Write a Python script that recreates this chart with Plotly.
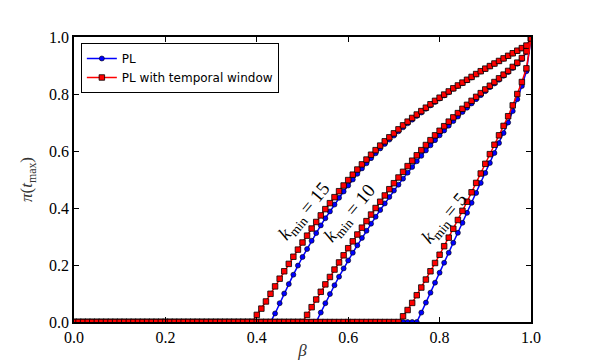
import plotly.graph_objects as go

# beta grid (step 0.01, 0.00 ... 1.00)
beta = [round(i * 0.01, 2) for i in range(101)]

# PL (blue circles)
pl_k15 = [0, 0, 0, 0, 0, 0, 0, 0, 0, 0, 0, 0, 0, 0, 0, 0, 0, 0, 0, 0,
          0, 0, 0, 0, 0, 0, 0, 0, 0, 0, 0, 0, 0, 0, 0, 0, 0, 0, 0, 0,
          0, 0, 0, 0,
          0.030, 0.066, 0.100, 0.133, 0.166, 0.198, 0.228,
          0.256, 0.285, 0.312, 0.339, 0.364, 0.388, 0.412, 0.436, 0.458, 0.479,
          0.500, 0.520, 0.539, 0.557, 0.575, 0.592, 0.609, 0.625, 0.640, 0.654,
          0.669, 0.683, 0.697, 0.710, 0.723, 0.735, 0.748, 0.760, 0.772, 0.784,
          0.795, 0.806, 0.818, 0.828, 0.838, 0.848, 0.858, 0.869, 0.879, 0.888,
          0.897, 0.906, 0.915, 0.924, 0.933, 0.942, 0.951, 0.960, 0.969, 0.995]
pl_k10 = [0, 0, 0, 0, 0, 0, 0, 0, 0, 0, 0, 0, 0, 0, 0, 0, 0, 0, 0, 0,
          0, 0, 0, 0, 0, 0, 0, 0, 0, 0, 0, 0, 0, 0, 0, 0, 0, 0, 0, 0,
          0, 0, 0, 0, 0, 0, 0, 0, 0, 0, 0, 0, 0, 0,
          0.033, 0.066, 0.098, 0.129, 0.159, 0.188, 0.216,
          0.243, 0.269, 0.295, 0.320, 0.345, 0.369, 0.393, 0.416, 0.439, 0.461,
          0.482, 0.503, 0.524, 0.544, 0.564, 0.583, 0.602, 0.620, 0.638, 0.655,
          0.672, 0.689, 0.705, 0.721, 0.737, 0.752, 0.767, 0.782, 0.796, 0.810,
          0.824, 0.837, 0.850, 0.864, 0.877, 0.891, 0.906, 0.922, 0.947, 0.995]
pl_k5 = [0, 0, 0, 0, 0, 0, 0, 0, 0, 0, 0, 0, 0, 0, 0, 0, 0, 0, 0, 0,
         0, 0, 0, 0, 0, 0, 0, 0, 0, 0, 0, 0, 0, 0, 0, 0, 0, 0, 0, 0,
         0, 0, 0, 0, 0, 0, 0, 0, 0, 0, 0, 0, 0, 0, 0, 0, 0, 0, 0, 0,
         0, 0, 0, 0, 0, 0, 0, 0, 0, 0, 0, 0, 0, 0, 0, 0,
         0.033, 0.068, 0.103, 0.138, 0.173,
         0.208, 0.243, 0.278, 0.313, 0.348, 0.383, 0.418, 0.453, 0.488, 0.523,
         0.558, 0.593, 0.628, 0.663, 0.700, 0.740, 0.782, 0.828, 0.880, 0.995]

# PL with temporal window (red squares)
tw_k15 = [0, 0, 0, 0, 0, 0, 0, 0, 0, 0, 0, 0, 0, 0, 0, 0, 0, 0, 0, 0,
          0, 0, 0, 0, 0, 0, 0, 0, 0, 0, 0, 0, 0, 0, 0, 0, 0, 0, 0, 0,
          0.025, 0.047, 0.072, 0.099, 0.125, 0.152, 0.178, 0.204, 0.229, 0.254,
          0.279,
          0.303, 0.328, 0.351, 0.374, 0.396, 0.417, 0.438, 0.459, 0.479, 0.498,
          0.517, 0.535, 0.553, 0.570, 0.587, 0.603, 0.619, 0.634, 0.648, 0.662,
          0.676, 0.690, 0.703, 0.716, 0.728, 0.740, 0.752, 0.764, 0.776, 0.787,
          0.798, 0.809, 0.820, 0.830, 0.840, 0.850, 0.860, 0.870, 0.880, 0.889,
          0.898, 0.907, 0.916, 0.925, 0.934, 0.943, 0.952, 0.961, 0.970, 0.995]
tw_k10 = [0, 0, 0, 0, 0, 0, 0, 0, 0, 0, 0, 0, 0, 0, 0, 0, 0, 0, 0, 0,
          0, 0, 0, 0, 0, 0, 0, 0, 0, 0, 0, 0, 0, 0, 0, 0, 0, 0, 0, 0,
          0, 0, 0, 0, 0, 0, 0, 0, 0, 0, 0,
          0.025, 0.052, 0.079, 0.106, 0.132, 0.158, 0.184, 0.209, 0.234, 0.259,
          0.283, 0.307, 0.331, 0.354, 0.377, 0.400, 0.422, 0.444, 0.466, 0.487,
          0.507, 0.527, 0.547, 0.566, 0.585, 0.603, 0.621, 0.638, 0.655, 0.671,
          0.687, 0.703, 0.718, 0.733, 0.748, 0.762, 0.776, 0.790, 0.803, 0.816,
          0.829, 0.842, 0.855, 0.868, 0.881, 0.895, 0.910, 0.926, 0.950, 0.995]
tw_k5 = [0, 0, 0, 0, 0, 0, 0, 0, 0, 0, 0, 0, 0, 0, 0, 0, 0, 0, 0, 0,
         0, 0, 0, 0, 0, 0, 0, 0, 0, 0, 0, 0, 0, 0, 0, 0, 0, 0, 0, 0,
         0, 0, 0, 0, 0, 0, 0, 0, 0, 0, 0, 0, 0, 0, 0, 0, 0, 0, 0, 0,
         0, 0, 0, 0, 0, 0, 0, 0, 0, 0, 0, 0,
         0.020, 0.042, 0.067, 0.094, 0.121, 0.149, 0.178, 0.207, 0.236,
         0.266, 0.296, 0.327, 0.358, 0.390, 0.422, 0.455, 0.488, 0.521, 0.555,
         0.589, 0.622, 0.655, 0.688, 0.722, 0.760, 0.800, 0.842, 0.890, 0.995]

tick_vals = [0.0, 0.2, 0.4, 0.6, 0.8, 1.0]
tick_text = ["0.0", "0.2", "0.4", "0.6", "0.8", "1.0"]

labels = ["<i>k</i><sub>min</sub> = 15", "<i>k</i><sub>min</sub> = 10", "<i>k</i><sub>min</sub> = 5"]
label_x = [0.505, 0.604, 0.812]
label_y = [0.385, 0.38, 0.36]

fig = go.Figure()

for i, ys in enumerate([pl_k15, pl_k10, pl_k5]):
    fig.add_trace(go.Scatter(
        x=beta, y=ys, mode="lines+markers", name="PL",
        legendgroup="pl", showlegend=(i == 0),
        line=dict(color="#0000ff", width=1.5),
        marker=dict(symbol="circle", size=5, color="#0000ff",
                    line=dict(color="black", width=0.6)),
    ))
for i, ys in enumerate([tw_k15, tw_k10, tw_k5]):
    fig.add_trace(go.Scatter(
        x=beta, y=ys, mode="lines+markers", name="PL with temporal window",
        legendgroup="tw", showlegend=(i == 0),
        line=dict(color="#ff0000", width=1.5),
        marker=dict(symbol="square", size=5.5, color="#ff0000",
                    line=dict(color="black", width=0.8)),
    ))

for t, xx, yy in zip(labels, label_x, label_y):
    fig.add_annotation(x=xx, y=yy, xref="x", yref="y", text=t, showarrow=False,
                       textangle=-50,
                       font=dict(family="Liberation Serif", size=19, color="black"))

axis_common = dict(
    showline=True, linecolor="black", linewidth=1.5, mirror="allticks",
    ticks="inside", ticklen=5, tickwidth=1, tickcolor="black",
    showgrid=False, zeroline=False, automargin=False,
    tickfont=dict(family="Liberation Serif", size=16, color="black"),
    tickvals=tick_vals, ticktext=tick_text,
)

fig.update_xaxes(range=[0, 1], **axis_common,
                 title=dict(text="<i>β</i>", standoff=4,
                            font=dict(family="Liberation Serif", size=17, color="#333")))
fig.update_yaxes(range=[0, 1], **axis_common,
                 title=dict(text="<i>π</i>(<i>t</i><sub>max</sub>)", standoff=12,
                            font=dict(family="Liberation Serif", size=17, color="#333")))

fig.update_layout(
    width=582, height=352,
    margin=dict(l=66, r=59, t=29, b=38, autoexpand=False),
    paper_bgcolor="white", plot_bgcolor="white",
    legend=dict(x=0.015, y=0.979, xanchor="left", yanchor="top",
                bgcolor="white", bordercolor="black", borderwidth=1,
                font=dict(family="DejaVu Sans", size=12, color="black"),
                tracegroupgap=0, itemwidth=30),
    showlegend=True,
)

fig.write_html("out.html")
